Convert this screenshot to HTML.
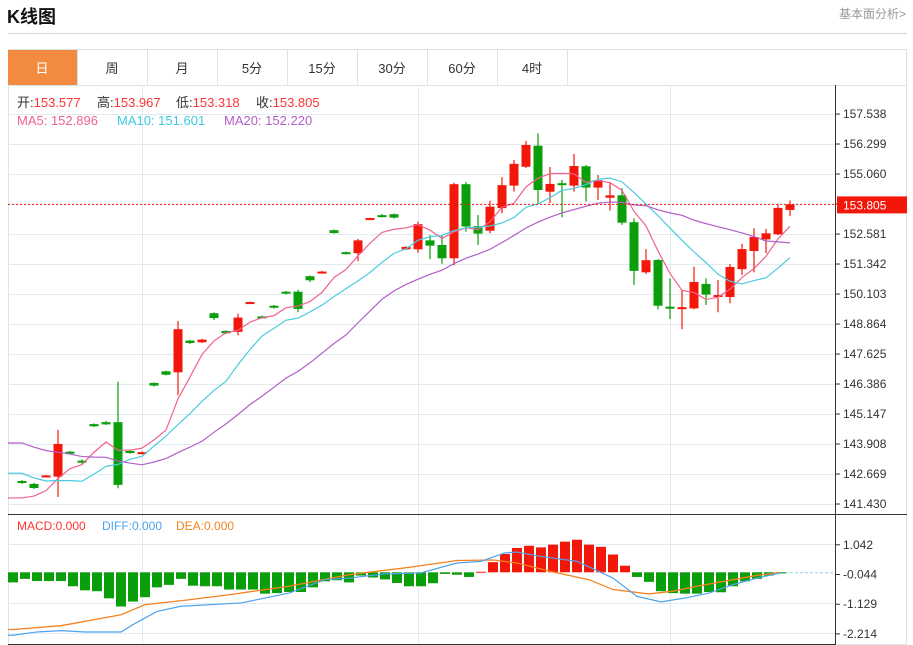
<!DOCTYPE html>
<html><head><meta charset="utf-8"><style>
body{margin:0;background:#fff;width:913px;height:645px;overflow:hidden;font-family:"Liberation Sans","Noto Sans CJK SC",sans-serif}
#title{position:absolute;left:7px;top:3px;font-size:18px;font-weight:bold;color:#111}
#more{position:absolute;left:839px;top:5px;font-size:12px;color:#999}
#hr{position:absolute;left:8px;top:33px;width:899px;height:1px;background:#d5d5d5}
</style></head><body>
<div id="title">K线图</div>
<div id="more">基本面分析&gt;</div>
<div id="hr"></div>
<svg id="svg" width="913" height="645" style="position:absolute;left:0;top:0" font-family="Liberation Sans, Noto Sans CJK SC, sans-serif"></svg>
<script>
const openP=[142.38,142.26,142.57,142.56,143.59,143.22,144.73,144.81,144.81,143.62,143.51,146.43,146.91,146.87,148.18,148.11,149.31,148.58,148.54,149.72,149.18,149.62,150.20,150.20,150.84,150.99,152.74,151.83,151.79,153.20,153.36,153.40,151.95,151.95,152.32,152.13,151.58,154.64,152.91,152.72,153.65,154.58,155.36,156.23,154.33,154.68,154.58,155.38,154.50,154.08,154.18,153.07,151.00,151.51,149.58,149.54,149.51,150.52,149.99,149.98,151.13,151.88,152.36,152.57,153.577];
const closeP=[142.30,142.09,142.61,143.91,143.54,143.14,144.64,144.72,142.22,143.54,143.57,146.32,146.77,148.65,148.08,148.22,149.11,148.48,149.13,149.77,149.13,149.54,150.12,149.49,150.67,151.03,152.62,151.77,152.32,153.24,153.30,153.26,152.05,152.99,152.10,151.58,154.64,152.89,152.60,153.71,154.60,155.48,156.26,154.40,154.65,154.64,155.39,154.50,154.81,154.18,153.05,151.06,151.50,149.62,149.54,149.56,150.60,150.08,150.06,151.22,151.96,152.46,152.61,153.66,153.805];
const highP=[142.42,142.30,142.63,144.49,143.62,143.27,144.76,144.86,146.48,143.66,143.60,146.45,146.94,148.99,148.21,148.25,149.34,148.60,149.29,149.79,149.21,149.65,150.23,150.28,150.87,151.06,152.77,151.86,152.38,153.26,153.41,153.43,152.07,153.09,152.54,152.54,154.70,154.73,153.37,153.96,154.93,155.64,156.43,156.74,155.35,154.82,155.89,155.43,155.02,154.72,154.47,153.23,151.96,151.55,150.75,150.27,151.23,150.75,150.68,151.34,152.18,152.82,152.79,153.81,153.967];
const lowP=[142.26,142.05,142.55,141.72,143.50,143.10,144.61,144.69,142.08,143.50,143.48,146.28,146.74,145.93,148.04,148.08,149.03,148.45,148.40,149.69,149.09,149.50,150.08,149.35,150.60,150.96,152.60,151.74,151.46,153.18,153.27,153.22,151.92,151.81,151.54,151.35,151.29,152.68,152.13,152.61,153.44,154.33,155.30,153.85,153.85,153.27,154.33,153.92,153.99,153.55,152.96,150.48,150.93,149.47,149.07,148.65,149.47,149.65,149.35,149.72,150.89,151.00,151.79,152.54,153.318];
const priorCloses=[145.6,145.4,145.3,145.0,145.2,145.1,144.9,145.3,145.2,145.0,144.0,143.9,143.7,143.6,143.4,141.7,141.5,141.4,141.5];
const yTicks=[157.538,156.299,155.060,153.821,152.581,151.342,150.103,148.864,147.625,146.386,145.147,143.908,142.669,141.430];
const macdHist=[-0.37,-0.24,-0.32,-0.32,-0.32,-0.51,-0.66,-0.69,-0.95,-1.25,-1.07,-0.91,-0.55,-0.46,-0.24,-0.49,-0.51,-0.51,-0.63,-0.63,-0.63,-0.78,-0.76,-0.72,-0.72,-0.55,-0.33,-0.29,-0.37,-0.12,-0.19,-0.26,-0.39,-0.51,-0.51,-0.40,-0.06,-0.09,-0.17,0.02,0.37,0.67,0.89,0.97,0.91,1.01,1.12,1.19,1.01,0.93,0.65,0.24,-0.17,-0.35,-0.69,-0.76,-0.78,-0.78,-0.72,-0.73,-0.51,-0.33,-0.24,-0.12,-0.04];
const deaIdx=[0,4,9,11,14,18,23,28,33,37,40,42,45,48,50,53,55,57,60,62,64];
const deaVal=[-2.09,-1.95,-1.55,-1.18,-1.04,-0.82,-0.51,-0.09,0.18,0.43,0.45,0.34,0.01,-0.27,-0.63,-0.79,-0.69,-0.51,-0.27,-0.11,-0.01];
const diffIdx=[0,2,4,6,9,10,12,14,19,21,23,26,28,31,34,37,39,41,42,44,47,50,52,54,56,58,60,62,64];
const diffVal=[-2.30,-2.18,-2.13,-2.18,-2.18,-1.91,-1.43,-1.24,-1.12,-0.94,-0.76,-0.27,-0.21,-0.06,-0.02,0.34,0.40,0.71,0.74,0.58,0.40,-0.21,-0.88,-1.08,-0.94,-0.76,-0.45,-0.21,-0.02];
const macdTicks=[1.042,-0.044,-1.129,-2.214];
const tabs=["日","周","月","5分","15分","30分","60分","4时"];

const NS="http://www.w3.org/2000/svg";
const svg=document.getElementById('svg');
function mk(tag,at,parent){const e=document.createElementNS(NS,tag);for(const k in at)e.setAttribute(k,at[k]);(parent||svg).appendChild(e);return e;}
const X=i=>22+12*i;
const MX=i=>13+12*i;
const Y=p=>504-(p-141.430)*24.21;
const MY=v=>572.3-v*27.37;
const RED="#f3170a",GREEN="#0a9f0a";

const tabBox=mk('rect',{x:8.5,y:49.5,width:898,height:36,fill:"#fff",stroke:"#dde3ea"});


tabs.forEach((t,i)=>{
  const g=mk('g',{});
  
  
  if(i===0) mk('rect',{x:8,y:50,width:69,height:35,fill:"#f28b40"},g);
  mk('line',{x1:77.5+70*i,y1:50,x2:77.5+70*i,y2:85,stroke:"#dde3ea"},g);
  const tx=mk('text',{x:42+70*i,y:73,"text-anchor":"middle","font-size":13,fill:i===0?"#fff":"#333"},g);
  tx.textContent=t;
});
const frame=mk('rect',{x:8.5,y:85.5,width:898,height:559,fill:"none",stroke:"#dde3ea"});


const grid=mk('g',{stroke:"#e3ebf2","stroke-width":1});


yTicks.forEach(t=>mk('line',{x1:8,x2:835,y1:Math.round(Y(t))+0.5,y2:Math.round(Y(t))+0.5},grid));
macdTicks.forEach(t=>{if(t!==-0.044)mk('line',{x1:8,x2:835,y1:Math.round(MY(t))+0.5,y2:Math.round(MY(t))+0.5},grid);});
[142.5,418.5,670.5].forEach(x=>mk('line',{x1:x,x2:x,y1:85,y2:644},grid));
mk('line',{x1:835.5,x2:835.5,y1:85,y2:645,stroke:"#333"});
mk('line',{x1:8,x2:907,y1:514.5,y2:514.5,stroke:"#333"});
mk('line',{x1:8,x2:835,y1:644.5,y2:644.5,stroke:"#333"});
const yAx=mk('g',{"font-size":12,fill:"#333"});


yTicks.forEach(t=>{const y=Y(t);mk('line',{x1:835,x2:840,y1:y,y2:y,stroke:"#333"},yAx);const e=mk('text',{x:843,y:y+4},yAx);e.textContent=t.toFixed(3);});
const mAx=mk('g',{"font-size":12,fill:"#333"});


macdTicks.forEach(t=>{const y=MY(t)+1;mk('line',{x1:835,x2:840,y1:y,y2:y,stroke:"#333"},mAx);const e=mk('text',{x:843,y:y+4},mAx);e.textContent=t.toFixed(3);});

const cg=mk('g',{});


openP.forEach((o,i)=>{
  const c=closeP[i],col=c>=o?RED:GREEN,x=X(i);
  const g=mk('g',{},cg);
  
  
  mk('line',{x1:x,x2:x,y1:Y(highP[i]),y2:Y(lowP[i]),stroke:col,"stroke-width":1.2},g);
  const t=Math.min(Y(o),Y(c)),h=Math.max(2,Math.abs(Y(o)-Y(c)));
  mk('rect',{x:x-4.5,y:t,width:9,height:h,fill:col},g);
});
const allC=priorCloses.concat(closeP);
function ma(n){return closeP.map((_,i)=>{let s=0;const k=i+priorCloses.length;for(let j=k-n+1;j<=k;j++)s+=allC[Math.max(0,j)];return s/n;});}
[[5,"#f0628f","ma5-line"],[10,"#4ccbe0","ma10-line"],[20,"#b45ec9","ma20-line"]].forEach(([n,col,name])=>{
  const v=ma(n);
  const p=mk('polyline',{points:"8,"+Y(v[0])+" "+v.map((m,i)=>X(i)+","+Y(m)).join(" "),fill:"none",stroke:col,"stroke-width":1.2});
  
  
});
const lp=closeP[closeP.length-1];
mk('line',{x1:8,x2:835,y1:Y(lp),y2:Y(lp),stroke:RED,"stroke-dasharray":"2,2"});
const lb=mk('g',{});


mk('rect',{x:837,y:Y(lp)-8,width:70,height:17,fill:RED},lb);
const lt=mk('text',{x:843,y:Y(lp)+5,"font-size":12,fill:"#fff"},lb);lt.textContent=lp.toFixed(3);

mk('line',{x1:760,x2:835,y1:MY(0)+0.5,y2:MY(0)+0.5,stroke:"#8fd0e8","stroke-dasharray":"3,2"});
const hg=mk('g',{});


macdHist.forEach((v,i)=>{
  const y0=MY(0),y1=MY(v);
  const r=mk('rect',{x:MX(i)-5,y:Math.min(y0,y1),width:10,height:Math.max(1,Math.abs(y1-y0)),fill:v>=0?RED:GREEN},hg);
  
  
});
const dea=mk('polyline',{points:"8,"+MY(deaVal[0])+" "+deaIdx.map((k,j)=>MX(k)+","+MY(deaVal[j])).join(" "),fill:"none",stroke:"#f5821f","stroke-width":1.3});


const dif=mk('polyline',{points:"8,"+MY(diffVal[0])+" "+diffIdx.map((k,j)=>MX(k)+","+MY(diffVal[j])).join(" "),fill:"none",stroke:"#4ea3ec","stroke-width":1.2});



function leg(x,y,parts,name,fs){const t=mk('text',{x:x,y:y,"font-size":fs||12});parts.forEach(([s,c])=>{const ts=mk('tspan',{fill:c},t);ts.textContent=s;});}
leg(17,107,[["开:","#333"],["153.577","#f33"]],"open-legend",13);
leg(97,107,[["高:","#333"],["153.967","#f33"]],"high-legend",13);
leg(176,107,[["低:","#333"],["153.318","#f33"]],"low-legend",13);
leg(256,107,[["收:","#333"],["153.805","#f33"]],"close-legend",13);
leg(17,125,[["MA5: 152.896","#f0628f"]],"ma5-legend",13);
leg(117,125,[["MA10: 151.601","#3fcbe0"]],"ma10-legend",13);
leg(224,125,[["MA20: 152.220","#b45ec9"]],"ma20-legend",13);
leg(17,530,[["MACD:0.000","#f33"]],"macd-legend");
leg(102,530,[["DIFF:0.000","#4ea3ec"]],"diff-legend");
leg(176,530,[["DEA:0.000","#f5821f"]],"dea-legend");
</script>
</body></html>
